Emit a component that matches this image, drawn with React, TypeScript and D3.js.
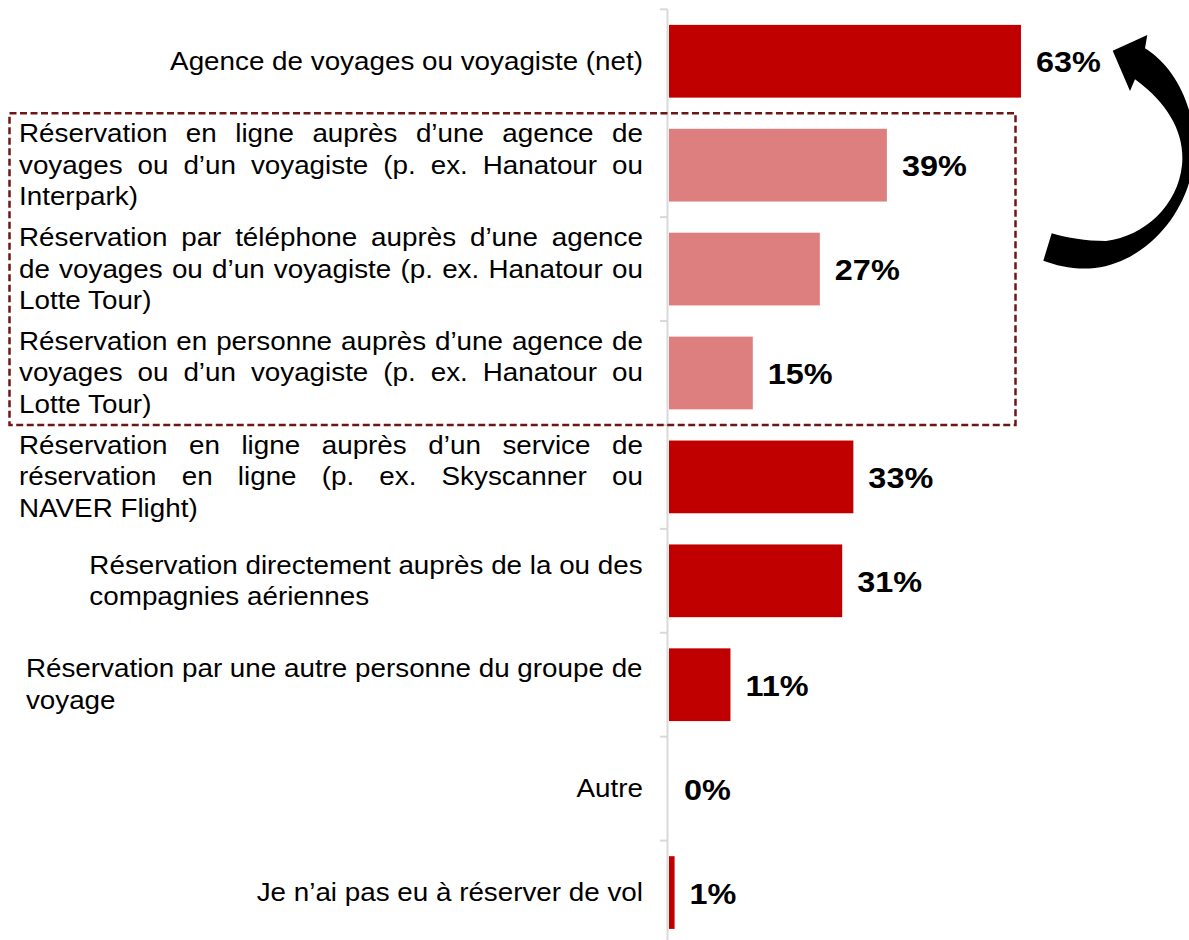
import React from "react";
import * as d3 from "d3";

const categories: string[][] = [
  ["Agence de voyages ou voyagiste (net)"],
  ["Réservation en ligne auprès d’une agence de", "voyages ou d’un voyagiste (p. ex. Hanatour ou", "Interpark)"],
  ["Réservation par téléphone auprès d’une agence", "de voyages ou d’un voyagiste (p. ex. Hanatour ou", "Lotte Tour)"],
  ["Réservation en personne auprès d’une agence de", "voyages ou d’un voyagiste (p. ex. Hanatour ou", "Lotte Tour)"],
  ["Réservation en ligne auprès d’un service de", "réservation en ligne (p. ex. Skyscanner ou", "NAVER Flight)"],
  ["Réservation directement auprès de la ou des", "compagnies aériennes"],
  ["Réservation par une autre personne du groupe de", "voyage"],
  ["Autre"],
  ["Je n’ai pas eu à réserver de vol"],
];
const values: number[] = [63, 39, 27, 15, 33, 31, 11, 0, 1];
const subItems: boolean[] = [false, true, true, true, false, false, false, false, false];
const justified: boolean[] = [false, true, true, true, true, false, false, false, false];

const W = 1189;
const H = 940;
const FONT = "'Liberation Sans', Arial, Helvetica, sans-serif";
const LABEL_SIZE = 26;
const STRETCH = 1.07;
const VAL_SIZE = 30;
const VAL_STRETCH = 1.08;
const LABEL_RIGHT = 643;
const JUST_LEFT = 19;
const LINE_H = 31.5;

let ctx: CanvasRenderingContext2D | null = null;
function measure(t: string): number {
  if (!ctx) ctx = document.createElement("canvas").getContext("2d");
  if (!ctx) return t.length * LABEL_SIZE * 0.5;
  ctx.font = `${LABEL_SIZE}px ${FONT}`;
  return ctx.measureText(t).width;
}

function LabelText({ x, y, children }: { x: number; y: number; children: string }) {
  return (
    <text
      transform={`translate(${x},${y}) scale(${STRETCH},1)`}
      fontFamily={FONT}
      fontSize={LABEL_SIZE}
      fill="#000"
    >
      {children}
    </text>
  );
}

export default function App() {
  const idx = categories.map((_, i) => i);
  const y = d3.scaleBand<number>().domain(idx).range([9.3, 944.5]).paddingInner(0.3).paddingOuter(0.15);
  const x = d3.scaleLinear().domain([0, 100]).range([669, 1227.7]);
  const step = y.step();
  const center = (i: number) => y(i)! + y.bandwidth() / 2;
  const boundaries = d3.range(categories.length + 1).map((i) => 9.3 + i * step);

  const boxTop = boundaries[1];
  const boxBottom = boundaries[4];

  const arrowPath =
    "M1112.7,50.7 L1147.3,35 L1145,48.3 " +
    "C1180,70 1200,120 1193,165 " +
    "C1186,215 1145,262 1095,268 " +
    "C1075,270 1058,266 1043.3,260.7 " +
    "L1051.7,233.3 " +
    "C1068,238 1085,241 1106,241 " +
    "C1145,236 1178,205 1182,165 " +
    "C1185,135 1170,105 1135,79.3 " +
    "L1130,91 Z";

  return (
    <svg
      width={W}
      height={H}
      viewBox={`0 0 ${W} ${H}`}
      style={{ position: "absolute", left: 0, top: 0, background: "#fff" }}
    >
      <rect x={0} y={0} width={W} height={H} fill="#fff" />
      {/* axis */}
      <line x1={667.5} x2={667.5} y1={boundaries[0]} y2={H} stroke="#d9d9d9" strokeWidth={2} />
      {boundaries.map((b, i) => (
        <line key={"t" + i} x1={660} x2={667.5} y1={b} y2={b} stroke="#d9d9d9" strokeWidth={2} />
      ))}
      {/* bars */}
      {values.map((v, i) => (
        <rect
          key={"b" + i}
          x={x(0)}
          y={y(i)}
          width={Math.max(0, x(v) - x(0))}
          height={y.bandwidth()}
          fill={subItems[i] ? "#de7f7f" : "#c00000"}
        />
      ))}
      {/* value labels */}
      {values.map((v, i) => (
        <text
          key={"v" + i}
          transform={`translate(${x(v) + 15},${center(i) + 11}) scale(${VAL_STRETCH},1)`}
          fontFamily={FONT}
          fontSize={VAL_SIZE}
          fontWeight="bold"
          fill="#000"
        >
          {`${v}%`}
        </text>
      ))}
      {/* category labels */}
      {categories.map((lines, i) => {
        const n = lines.length;
        const c = center(i);
        if (n === 1) {
          return (
            <text
              key={"c" + i}
              transform={`translate(${LABEL_RIGHT},${c + 8.5}) scale(${STRETCH},1)`}
              textAnchor="end"
              fontFamily={FONT}
              fontSize={LABEL_SIZE}
              fill="#000"
            >
              {lines[0]}
            </text>
          );
        }
        const maxW = d3.max(lines, (l) => measure(l))! * STRETCH;
        const left = justified[i] ? JUST_LEFT : LABEL_RIGHT - maxW;
        const boxW = LABEL_RIGHT - left;
        return (
          <g key={"c" + i}>
            {lines.map((l, j) => {
              const by = c + (j - (n - 1) / 2) * LINE_H + 8.5;
              const isLast = j === n - 1;
              if (justified[i] && !isLast) {
                const words = l.split(" ");
                const widths = words.map((w) => measure(w) * STRETCH);
                const total = d3.sum(widths);
                const gap = words.length > 1 ? (boxW - total) / (words.length - 1) : 0;
                let cx = left;
                return (
                  <g key={j}>
                    {words.map((w, k) => {
                      const px = cx;
                      cx += widths[k] + gap;
                      return (
                        <LabelText key={k} x={px} y={by}>
                          {w}
                        </LabelText>
                      );
                    })}
                  </g>
                );
              }
              return (
                <LabelText key={j} x={left} y={by}>
                  {l}
                </LabelText>
              );
            })}
          </g>
        );
      })}
      {/* dashed highlight box */}
      <rect
        x={9.5}
        y={boxTop}
        width={1015.5 - 9.5}
        height={boxBottom - boxTop}
        fill="none"
        stroke="#6e1616"
        strokeWidth={2.5}
        strokeDasharray="7,3.5"
      />
      {/* curved arrow */}
      <path d={arrowPath} fill="#000" />
    </svg>
  );
}
